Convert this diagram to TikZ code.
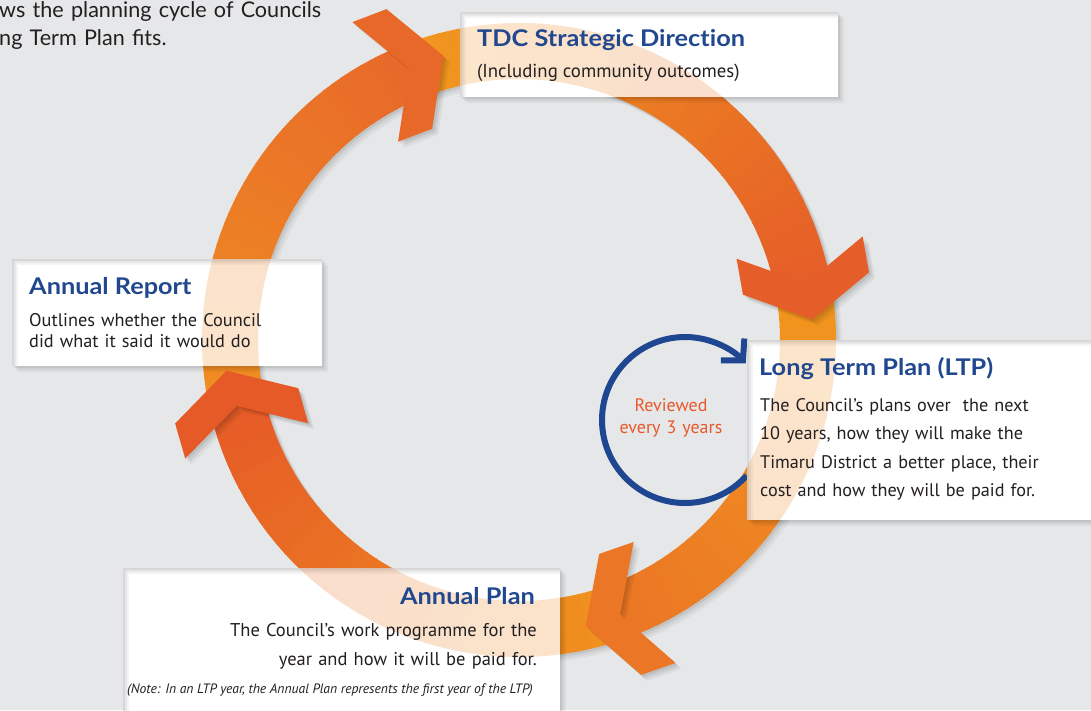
\documentclass[tikz,border=0pt]{standalone}
\usepackage{fontspec}
\setmainfont{PT Sans}
\newfontfamily\headfont{Lato}[FakeStretch=1.1, Ligatures=NoCommon]
\newfontfamily\introfont{Lato}
\usetikzlibrary{arrows.meta}

\definecolor{paper}{HTML}{E6E7E8}
\definecolor{headblue}{HTML}{21488F}
\definecolor{loopblue}{HTML}{1F4690}
\definecolor{revred}{HTML}{E9582B}
\definecolor{ink}{HTML}{231F20}
\definecolor{aTail}{HTML}{EF8D22}
\definecolor{aHead}{HTML}{E8682A}
\definecolor{bTail}{HTML}{F1961E}
\definecolor{bHead}{HTML}{E55D28}
\definecolor{cTail}{HTML}{F1961E}
\definecolor{cHead}{HTML}{EB7625}
\definecolor{dTail}{HTML}{F0911F}
\definecolor{dHead}{HTML}{E55A27}

% one curved band of the cycle, shaded from tail colour to head colour
% #1 start angle, #2 end angle, #3 tail colour, #4 head colour
\newcommand\shaftband[4]{%
  \foreach \k in {0,...,39}{%
    \pgfmathsetmacro\angA{#1+(#2-(#1))*\k/40}%
    \pgfmathsetmacro\angB{#1+(#2-(#1))*(\k+1)/40+0.3}%
    \pgfmathtruncatemacro\mixpc{100*\k/39}%
    \fill[#4!\mixpc!#3] (\angA:317) arc[start angle=\angA, end angle=\angB, radius=317]
      -- (\angB:261) arc[start angle=\angB, end angle=\angA, radius=261] -- cycle;
  }}

% the four bands of the cycle, centred on the ring centre
\newcommand\allshafts{%
  \begin{scope}[shift={(519,340)}]
    \shaftband{169}{250.1}{aTail}{aHead}
    \shaftband{250.1}{351}{bTail}{bHead}
    \shaftband{351}{431.9}{cTail}{cHead}
    \shaftband{71.9}{169}{dTail}{dHead}
  \end{scope}}

% chevron arrow head: #1 tip angle on the ring, #2 pointing direction, #3 fill style
\newcommand\chevron[3]{%
  \fill[#3, shift={(#1:294)}, rotate={-(#2)}]
    (0,0) -- (-36.5,64) -- (-73,64) -- (-36.5,0) -- (-73,-64) -- (-36.5,-64) -- cycle;}

% soft shadow to the lower right of a panel
\newcommand\panelshadow[1]{%
  \foreach \s/\o in {2/0.07,4/0.05,6/0.04}{%
    \fill[black, opacity=\o, even odd rule]
      ([shift={(\s,\s)}]#1.north west) rectangle ([shift={(\s,\s)}]#1.south east)
      (#1.north west) rectangle (#1.south east);}}

\tikzset{
  panel/.style={fill=white, inner sep=0pt, outer sep=0pt, anchor=north west},
  heading/.style={font=\headfont\bfseries\fontsize{23}{27}\selectfont, text=headblue, inner sep=0pt},
  bodytext/.style={text=ink, inner sep=0pt},
}

\begin{document}
\begin{tikzpicture}[x=1pt, y=-1pt]
\useasboundingbox (0,0) rectangle (1091,710);
\clip (0,0) rectangle (1091,710);
\fill[paper] (0,0) rectangle (1091,710);

% intro text
\node[bodytext, font=\introfont\fontsize{21.6}{28}\selectfont, anchor=base west,
      text width=420pt, align=left] (intro) at (-1,17.3)
  {ws the planning cycle of Councils\\ng Term Plan fits.};

% the planning cycle: shadow and bands
\begin{scope}[shift={(519,340)}]
  \foreach \s/\o in {2/0.07,4/0.05,6/0.04}{%
    \fill[black, opacity=\o, even odd rule, shift={(\s,\s)}]
      (0,0) circle[radius=317] (0,0) circle[radius=261];}
\end{scope}
\allshafts

% review loop
\coordinate (loopc) at (685,420);
\node[bodytext, text=revred, font=\fontsize{18}{22}\selectfont, text width=130pt,
      align=center, anchor=base] (rev) at (671,411) {Reviewed\\every 3 years};
\draw[loopblue, line width=6pt, -{Straight Barb[length=15pt, width=32pt]}]
  (loopc) ++(42:83) arc[start angle=42, end angle=317, radius=83];

% panels
\node[panel, minimum width=378pt, minimum height=85pt] (tdcbox) at (460,12) {};
\node[panel, minimum width=310pt, minimum height=107pt] (arbox) at (12,259) {};
\node[panel, minimum width=350pt, minimum height=180pt] (ltpbox) at (747,340) {};
\node[panel, minimum width=437pt, minimum height=150pt] (apbox) at (123,568) {};
\panelshadow{tdcbox}
\panelshadow{arbox}
\panelshadow{ltpbox}
\panelshadow{apbox}

% bands showing faintly through the panels
\begin{scope}[transparency group, opacity=0.23]
  \clip (tdcbox.north west) rectangle (tdcbox.south east)
        (arbox.north west) rectangle (arbox.south east)
        (ltpbox.north west) rectangle (ltpbox.south east)
        (apbox.north west) rectangle (apbox.south east);
  \allshafts
\end{scope}

% arrow heads
\begin{scope}[shift={(519,340)}]
  \foreach \s/\o in {2/0.07,4/0.06,6/0.05}{%
    \chevron{255.1}{339.1}{black, opacity=\o, xshift=\s pt, yshift=-\s pt}
    \chevron{356}{440}{black, opacity=\o, xshift=\s pt, yshift=-\s pt}
    \chevron{76.9}{160.9}{black, opacity=\o, xshift=\s pt, yshift=-\s pt}
    \chevron{174}{254}{black, opacity=\o, xshift=\s pt, yshift=-\s pt}}
  \chevron{255.1}{339.1}{aHead}
  \chevron{356}{440}{bHead}
  \chevron{76.9}{160.9}{cHead}
  \chevron{174}{254}{dHead}
\end{scope}

% texts
\node[heading, anchor=base west] (tdc) at (477,46) {TDC Strategic Direction};
\node[bodytext, font=\fontsize{18.8}{22}\selectfont, anchor=base west] (tdcnote) at (477,77)
  {(Including community outcomes)};

\node[heading, anchor=base west] (ar) at (29,294) {Annual Report};
\node[bodytext, font=\fontsize{18.3}{21}\selectfont, anchor=base west, text width=290pt,
      align=left] (arnote) at (29,326)
  {Outlines whether the Council\\did what it said it would do};

\node[heading, anchor=base west] (ltp) at (759,375) {Long Term Plan (LTP)};
\node[bodytext, font=\fontsize{18.2}{28.5}\selectfont, anchor=base west, text width=320pt,
      align=left] (ltpnote) at (760,411)
  {The Council’s plans over~ the next\\10 years, how they will make the\\Timaru District a better place, their\\cost and how they will be paid for.};

\node[heading, anchor=base east] (ap) at (535,604) {Annual Plan};
\node[bodytext, font=\fontsize{18.5}{29}\selectfont, anchor=base east, text width=400pt,
      align=right] (apnote) at (537,636)
  {The Council’s work programme for the\\year and how it will be paid for.};
\node[bodytext, font=\itshape\fontsize{13.6}{15}\selectfont, anchor=base west] (apfoot) at (127,693)
  {(Note: In an LTP year, the Annual Plan represents the first year of the LTP)};
\end{tikzpicture}
\end{document}
